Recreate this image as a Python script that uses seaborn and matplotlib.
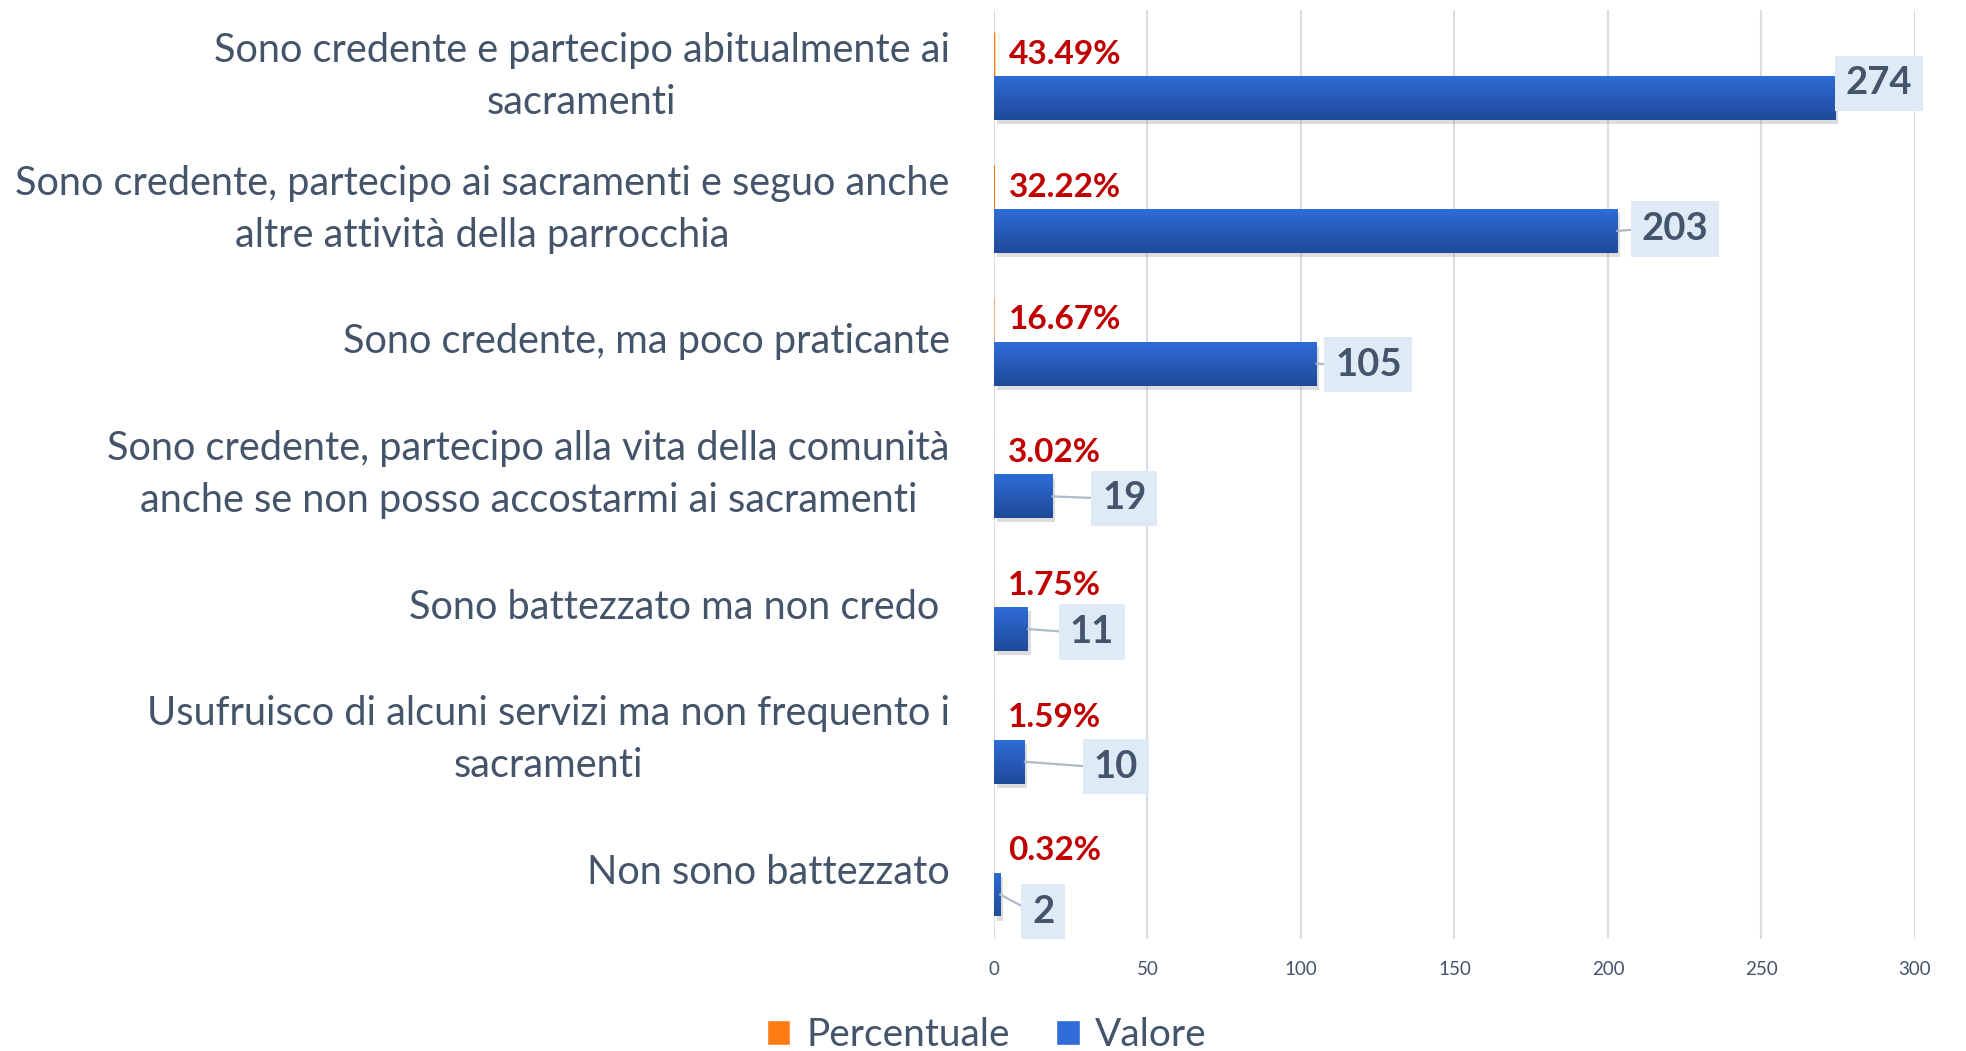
import numpy as np
import pandas as pd
import matplotlib
matplotlib.use("Agg")
import matplotlib.pyplot as plt
import matplotlib.patheffects as pe
from matplotlib.colors import LinearSegmentedColormap
from matplotlib.patches import Patch
import seaborn as sns

# --- data ---
categorie = [
    "Sono credente e partecipo abitualmente ai\nsacramenti",
    "Sono credente, partecipo ai sacramenti e seguo anche\naltre attività della parrocchia",
    "Sono credente, ma poco praticante",
    "Sono credente, partecipo alla vita della comunità\nanche se non posso accostarmi ai sacramenti",
    "Sono battezzato ma non credo ",
    "Usufruisco di alcuni servizi ma non frequento i\nsacramenti",
    "Non sono battezzato",
]
percentuale = [0.4349, 0.3222, 0.1667, 0.0302, 0.0175, 0.0159, 0.0032]
valore = [274, 203, 105, 19, 11, 10, 2]
serie = ["Percentuale", "Valore"]
x_ticks = [0, 50, 100, 150, 200, 250, 300]

# label placement (pixel offsets from bar end, like Excel's moved labels)
label_offsets = [(44, 15), (58, 2), (52, -1), (72, -2), (64, -3), (91, -5), (43, -17)]
leader_lines = [False, True, True, True, True, True, True]

TEXT = "#44546A"
ORANGE = ["#FF7C14", "#C4590F"]
BLUE = ["#2F6CD8", "#1F4A98"]

df = pd.DataFrame({
    "categoria": categorie * 2,
    "serie": [serie[0]] * len(categorie) + [serie[1]] * len(categorie),
    "valore": percentuale + valore,
})

sns.set_theme(style="white")
plt.rcParams["font.family"] = ["Lato", "DejaVu Sans"]

fig = plt.figure(figsize=(19.66, 10.51), dpi=100)
ax = fig.add_axes([0.5056, 0.1066, 0.4684, 0.8839])

sns.barplot(data=df, y="categoria", x="valore", hue="serie", hue_order=serie,
            palette=[ORANGE[0], BLUE[0]], width=0.66, orient="h",
            legend=False, ax=ax, linewidth=0, saturation=1)

ax.set_xlim(0, 300)
ylim = ax.get_ylim()

# gradient fill + soft shadow on the blue bars
grad = np.linspace(0, 1, 100).reshape(-1, 1)
for i, (cont, cols) in enumerate(zip(ax.containers, [ORANGE, BLUE])):
    cmap = LinearSegmentedColormap.from_list("g", cols)
    for bar in cont:
        if i == 0:
            # the percent series is tiny on this scale, don't let snapping fatten it
            bar.set_snap(False)
            continue
        bar.set_path_effects([pe.SimplePatchShadow(offset=(2, -3), shadow_rgbFace="#909090", alpha=0.3),
                              pe.Normal()])
        x0, y0 = bar.get_x(), bar.get_y()
        w, h = bar.get_width(), bar.get_height()
        im = ax.imshow(grad, cmap=cmap, aspect="auto", extent=(x0, x0 + w, y0 + h, y0),
                       origin="upper", zorder=bar.get_zorder() + 0.1)
        im.set_clip_path(bar)

ax.set_xlim(0, 300)
ax.set_ylim(ylim)

# percent labels
for bar, p in zip(ax.containers[0], percentuale):
    yc = bar.get_y() + bar.get_height() / 2
    ax.annotate(f"{p * 100:.2f}%", xy=(bar.get_width(), yc), xytext=(14, 0),
                textcoords="offset pixels", ha="left", va="center",
                color="#C00000", fontweight="bold", fontsize=24, zorder=5)

# value labels
for bar, v, (dx, dy), lead in zip(ax.containers[1], valore, label_offsets, leader_lines):
    yc = bar.get_y() + bar.get_height() / 2
    arrow = dict(arrowstyle="-", color="#AEBACB", lw=1.6, shrinkA=0, shrinkB=0,
                 relpos=(0, 0.5)) if lead else None
    ax.annotate(f"{v}", xy=(bar.get_width(), yc), xytext=(dx, dy),
                textcoords="offset pixels", ha="center", va="center",
                color=TEXT, fontweight="bold", fontsize=27.5, zorder=6,
                bbox=dict(boxstyle="square,pad=0.28", fc="#DEEAF6", ec="none"),
                arrowprops=arrow)

ax.set_xticks(x_ticks)
ax.set_xticklabels([str(t) for t in x_ticks])
ax.grid(axis="x", color="#DADDE3", lw=1.5)
ax.grid(axis="y", visible=False)
ax.set_axisbelow(True)
for s in ax.spines.values():
    s.set_visible(False)
ax.set_xlabel("")
ax.set_ylabel("")
ax.tick_params(axis="x", length=0, pad=16, labelsize=13.5, labelcolor=TEXT)
ax.tick_params(axis="y", length=0, pad=32, labelsize=28.6, labelcolor=TEXT)
for t in ax.get_yticklabels():
    t.set_multialignment("center")
    t.set_linespacing(1.5)
    t.set_verticalalignment("center")

handles = [Patch(facecolor=ORANGE[0], label=serie[0]), Patch(facecolor=BLUE[0], label=serie[1])]
fig.legend(handles=handles, loc="center", bbox_to_anchor=(0.502, 0.015), ncol=2,
           frameon=False, fontsize=28, labelcolor=TEXT, handlelength=0.6,
           handleheight=0.6, handletextpad=0.4, columnspacing=1.2)

fig.savefig("out.png", dpi=100)
